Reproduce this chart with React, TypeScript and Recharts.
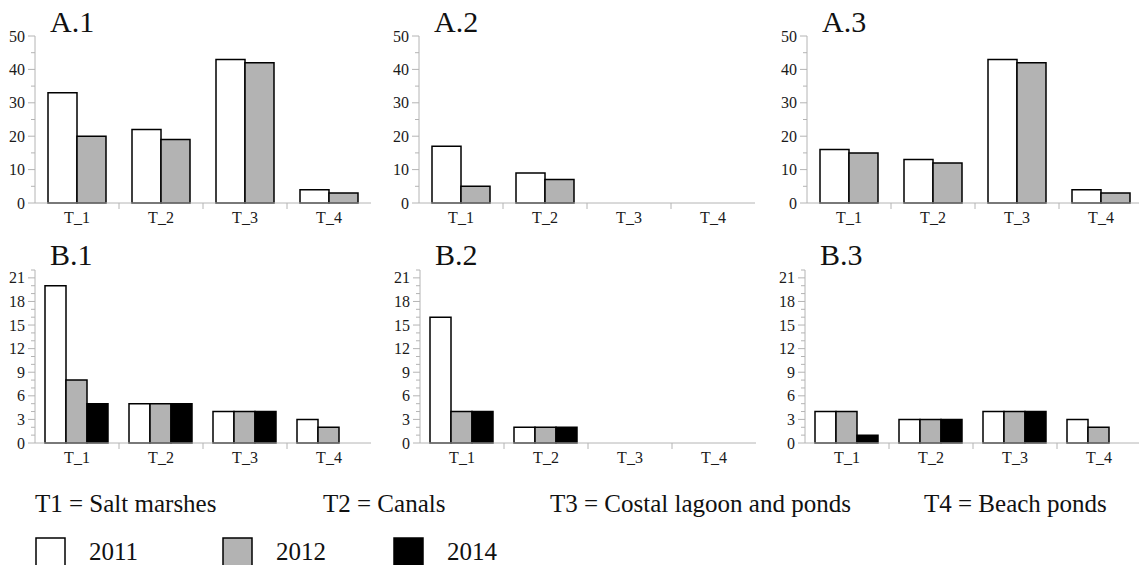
import { BarChart, Bar, XAxis, YAxis } from "recharts";

const categories = ["T_1", "T_2", "T_3", "T_4"];
const years = ["2011", "2012", "2014"];
const yearFills = ["#ffffff", "#b3b3b3", "#000000"];

// panel A (two years)
const a1_2011 = [33, 22, 43, 4];
const a1_2012 = [20, 19, 42, 3];
const a2_2011 = [17, 9, 0, 0];
const a2_2012 = [5, 7, 0, 0];
const a3_2011 = [16, 13, 43, 4];
const a3_2012 = [15, 12, 42, 3];

// panel B (three years)
const b1_2011 = [20, 5, 4, 3];
const b1_2012 = [8, 5, 4, 2];
const b1_2014 = [5, 5, 4, 0];
const b2_2011 = [16, 2, 0, 0];
const b2_2012 = [4, 2, 0, 0];
const b2_2014 = [4, 2, 0, 0];
const b3_2011 = [4, 3, 4, 3];
const b3_2012 = [4, 3, 4, 2];
const b3_2014 = [1, 3, 4, 0];

const aTicks = [0, 5, 10, 15, 20, 25, 30, 35, 40, 45, 50];
const bTicks = [0, 1, 2, 3, 4, 5, 6, 7, 8, 9, 10, 11, 12, 13, 14, 15, 16, 17, 18, 19, 20, 21, 22];

const habitatNotes = [
  "T1 = Salt marshes",
  "T2 = Canals",
  "T3 = Costal lagoon and ponds",
  "T4 = Beach ponds",
];

const FONT = "Liberation Serif";
const FRAME = "#b4b4b4";
const PLOT_W = 336;
const AXIS_W = 35;
const TOP = 36;
const AXIS_H = 30;

function YTick(props: any) {
  const { x, y, payload, step } = props;
  const axisX = x + 10;
  const major = payload.value % step === 0;
  return (
    <g>
      <line x1={axisX - (major ? 7 : 4)} x2={axisX} y1={y} y2={y} stroke={FRAME} />
      {major && (
        <text x={x} y={y} dy={5.5} textAnchor="end" fontFamily={FONT} fontSize={16} fill="#1a1a1a">
          {payload.value}
        </text>
      )}
    </g>
  );
}

function XTick(props: any) {
  const { x, y, payload, index, band } = props;
  const axisY = y - 10;
  return (
    <g>
      {index < categories.length - 1 && (
        <line x1={x + band / 2} x2={x + band / 2} y1={axisY} y2={axisY + 6} stroke={FRAME} />
      )}
      <text x={x} y={axisY + 20} textAnchor="middle" fontFamily={FONT} fontSize={16} fill="#1a1a1a">
        {payload.value}
      </text>
    </g>
  );
}

interface PanelProps {
  left: number;
  top: number;
  plotHeight: number;
  series: number[][];
  yMax: number;
  ticks: number[];
  step: number;
  gap: number;
}

function Panel({ left, top, plotHeight, series, yMax, ticks, step, gap }: PanelProps) {
  const data = categories.map((cat, i) => {
    const row: Record<string, string | number> = { cat };
    series.forEach((s, k) => {
      row[years[k]] = s[i];
    });
    return row;
  });

  return (
    <div style={{ position: "absolute", left, top }}>
      <BarChart
        width={AXIS_W + PLOT_W + 5}
        height={TOP + plotHeight + AXIS_H}
        data={data}
        margin={{ top: TOP, right: 5, bottom: 0, left: 0 }}
        barCategoryGap={gap}
        barGap={0}
      >
        <XAxis
          dataKey="cat"
          height={AXIS_H}
          interval={0}
          tickSize={6}
          tickMargin={4}
          tickLine={false}
          axisLine={{ stroke: FRAME }}
          tick={(p: any) => <XTick {...p} band={PLOT_W / categories.length} />}
        />
        <XAxis
          xAxisId="top"
          orientation="top"
          dataKey="cat"
          height={0}
          tick={false}
          tickLine={false}
          axisLine={{ stroke: FRAME }}
        />
        <YAxis
          width={AXIS_W}
          type="number"
          domain={[0, yMax]}
          ticks={ticks}
          interval={0}
          tickSize={6}
          tickMargin={4}
          tickLine={false}
          axisLine={{ stroke: FRAME }}
          tick={(p: any) => <YTick {...p} step={step} />}
        />
        <YAxis
          yAxisId="right"
          orientation="right"
          width={0}
          type="number"
          domain={[0, yMax]}
          tick={false}
          tickLine={false}
          axisLine={{ stroke: FRAME }}
        />
        {series.map((_, k) => (
          <Bar
            key={years[k]}
            dataKey={years[k]}
            fill={yearFills[k]}
            stroke="#000"
            strokeWidth={1.5}
            isAnimationActive={false}
          />
        ))}
      </BarChart>
    </div>
  );
}

export default function App() {
  const aPanels = [
    { left: 0, title: "A.1", series: [a1_2011, a1_2012] },
    { left: 384, title: "A.2", series: [a2_2011, a2_2012] },
    { left: 772, title: "A.3", series: [a3_2011, a3_2012] },
  ];
  const bPanels = [
    { left: 0, title: "B.1", series: [b1_2011, b1_2012, b1_2014] },
    { left: 385, title: "B.2", series: [b2_2011, b2_2012, b2_2014] },
    { left: 770, title: "B.3", series: [b3_2011, b3_2012, b3_2014] },
  ];
  const noteX = [35, 323, 550, 924];
  const legendX = [36, 223, 394];

  return (
    <div
      style={{
        position: "fixed",
        left: 0,
        top: 0,
        width: 1139,
        height: 565,
        overflow: "hidden",
        background: "#fff",
      }}
    >
      {aPanels.map((p) => (
        <Panel
          key={p.title}
          left={p.left}
          top={0}
          plotHeight={167}
          series={p.series}
          yMax={50}
          ticks={aTicks}
          step={10}
          gap={13}
        />
      ))}
      {bPanels.map((p) => (
        <Panel
          key={p.title}
          left={p.left}
          top={233.5}
          plotHeight={173}
          series={p.series}
          yMax={22}
          ticks={bTicks}
          step={3}
          gap={10}
        />
      ))}
      <svg
        width={1139}
        height={565}
        style={{ position: "absolute", left: 0, top: 0, pointerEvents: "none" }}
      >
        {aPanels.map((p) => (
          <text key={p.title} x={p.left + 50} y={32} fontFamily={FONT} fontSize={30} fill="#111">
            {p.title}
          </text>
        ))}
        {bPanels.map((p) => (
          <text key={p.title} x={p.left + 50} y={265} fontFamily={FONT} fontSize={30} fill="#111">
            {p.title}
          </text>
        ))}
        {habitatNotes.map((n, i) => (
          <text key={n} x={noteX[i]} y={512} fontFamily={FONT} fontSize={25} fill="#111">
            {n}
          </text>
        ))}
        {years.map((yr, i) => (
          <g key={yr}>
            <rect x={legendX[i]} y={538} width={29} height={28} fill={yearFills[i]} stroke="#000" strokeWidth={1.5} />
            <text x={legendX[i] + 53} y={560} fontFamily={FONT} fontSize={25} fill="#111">
              {yr}
            </text>
          </g>
        ))}
      </svg>
    </div>
  );
}
